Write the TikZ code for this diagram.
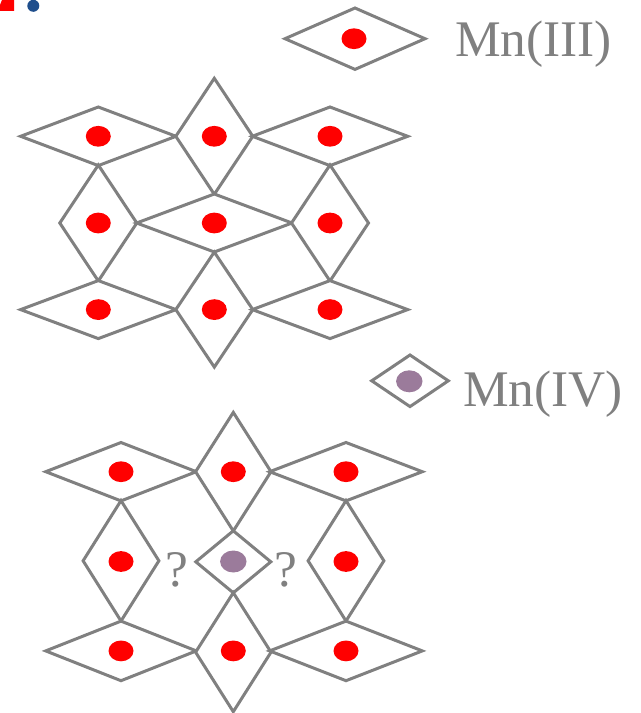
\documentclass[tikz,border=0pt]{standalone}
\usepackage{fontspec}
\setmainfont{Liberation Serif}
\begin{document}
\definecolor{edgegray}{RGB}{128,128,128}
\definecolor{mnthree}{RGB}{255,0,0}
\definecolor{mnfour}{RGB}{155,123,155}
\definecolor{markblue}{RGB}{31,78,140}
% rhombus: centre x, centre y, half width, half height
\newcommand\rhomb[4]{\draw[cell] ({#1-#3},#2) -- (#1,{#2-#4}) -- ({#1+#3},#2) -- (#1,{#2+#4}) -- cycle;}
\newcommand\mnIII[2]{\fill[mnthree] (#1,#2) ellipse [x radius=12.5, y radius=10.4];}
\newcommand\mnIV[2]{\fill[mnfour] (#1,#2) ellipse [x radius=13.2, y radius=11];}
\begin{tikzpicture}[x=0.75pt,y=-0.75pt,
  cell/.style={draw=edgegray, line width=2.25pt, fill=white},
  label/.style={text=edgegray, inner sep=0pt, anchor=base west,
    font=\fontsize{38.5}{40}\selectfont}]
\useasboundingbox (0,0) rectangle (641,713);

% corner marker
\fill[mnthree] (2,0) -- (14,0) -- (14,11) -- (0,11) -- (0,5) -- cycle;
\fill[markblue] (33.3,5.8) circle [radius=6];

% legend
\rhomb{355}{38.7}{70}{30.7}
\mnIII{354}{38.7}
\node[label] (lIII) at (455,56.7) {Mn(III)};
\rhomb{410}{380.8}{38.3}{25.8}
\mnIV{409.3}{381.3}
\node[label] (lIV) at (463,406.7) {Mn(IV)};

% upper layer: Mn(III) only
\rhomb{98.3}{136.3}{77.7}{29.3}
\rhomb{214.3}{136.3}{38.5}{58}
\rhomb{330}{136.3}{77.7}{29.3}
\rhomb{98.3}{223}{38.5}{58}
\rhomb{214.3}{223}{77.7}{29}
\rhomb{330}{223}{38.5}{58}
\rhomb{98.3}{309.6}{77.7}{29}
\rhomb{214.3}{309.6}{38.5}{57.5}
\rhomb{330}{309.6}{77.7}{29}
\foreach \x in {98.3,214.3,330}
  \foreach \y in {136.3,223,309.6} {\mnIII{\x}{\y}}

% lower layer: central Mn(IV)
\rhomb{121}{471.7}{75.3}{29.2}
\rhomb{233.3}{471.7}{37.7}{59.3}
\rhomb{346}{471.7}{76.3}{29.2}
\rhomb{121}{560.8}{37.9}{60.2}
\rhomb{233.3}{561.8}{37.5}{31}
\rhomb{346}{560.8}{37.9}{60.2}
\rhomb{121}{650.9}{75.3}{29.8}
\rhomb{233.3}{652.2}{37.7}{59.5}
\rhomb{346}{650.9}{76.3}{29.8}
\foreach \x in {121,233.3,346} {\mnIII{\x}{471.7}\mnIII{\x}{650.9}}
\mnIII{121}{561.5}
\mnIII{346}{561.5}
\mnIV{233.3}{561.5}
\node[label, anchor=base] (qa) at (176.5,586.7) {?};
\node[label, anchor=base] (qb) at (286,586.7) {?};
\end{tikzpicture}
\end{document}
